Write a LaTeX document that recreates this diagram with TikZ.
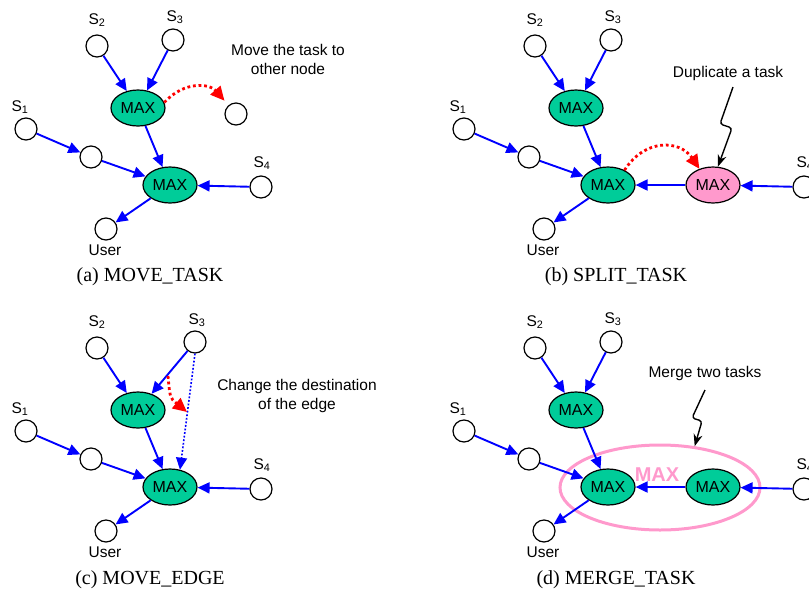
\documentclass[tikz,border=0pt]{standalone}
\usepackage{fontspec}
\setmainfont{Liberation Serif}
\newfontfamily\lsans{Liberation Sans}
\usetikzlibrary{arrows.meta,shapes.geometric,calc}
\definecolor{mgreen}{RGB}{0,204,153}
\definecolor{mpink}{RGB}{255,153,204}
\begin{document}
\begin{tikzpicture}[x=1pt,y=-1pt,
  lab/.style={font=\lsans\fontsize{15.5}{19}\selectfont, inner sep=0pt, align=center},
  captxt/.style={font=\fontsize{20}{24}\selectfont, inner sep=0pt},
  cnode/.style={circle, draw=black, line width=1.2pt, fill=white, minimum size=22pt, inner sep=0pt},
  mx/.style={ellipse, draw=black, line width=1.2pt, fill=mgreen, minimum width=54pt, minimum height=36pt, inner sep=0pt, font=\lsans\fontsize{16}{18}\selectfont},
  pmx/.style={mx, fill=mpink},
  bl/.style={draw=blue, line width=1.9pt, -{Triangle[length=12pt,width=11pt]}},
  bldot/.style={draw=blue, line width=1.6pt, dash pattern=on 1.8pt off 1.8pt, -{Triangle[length=12pt,width=11pt]}},
  rd/.style={draw=red, line width=2.8pt, dash pattern=on 2.8pt off 2.8pt, -{Triangle[length=14pt,width=13pt]}},
  zz/.style={draw=black, line width=1.4pt, rounded corners=3pt, -{Stealth[length=12pt,width=9pt]}},
]
\useasboundingbox (0,0) rectangle (809,598);
\clip (0,0) rectangle (809,598);

% ---------------- (a) MOVE_TASK ----------------
\node[cnode] (s2a) at (97,46) {};
\node[cnode] (s3a) at (173,40) {};
\node[mx] (uma) at (138,108) {MAX};
\node[cnode] (tga) at (236,114) {};
\node[cnode] (s1a) at (26,129) {};
\node[cnode] (mda) at (91,157) {};
\node[mx] (lma) at (170,185) {MAX};
\node[cnode] (s4a) at (261,187) {};
\node[cnode] (usa) at (106,229) {};
\node[lab] (s2la) at (97,20) {S\textsubscript{2}};
\node[lab] (s3la) at (175,17) {S\textsubscript{3}};
\node[lab] (s1la) at (20,107) {S\textsubscript{1}};
\node[lab] (s4la) at (262,163) {S\textsubscript{4}};
\node[lab] (usla) at (105,250) {User};
\node[lab] (txa) at (288,59) {Move the task to\\other node};
\node[captxt] (capa) at (150,277) {(a) MOVE\_TASK};
\draw[bl] (s2a) -- (uma);
\draw[bl] (s3a) -- (uma);
\draw[bl] (s1a) -- (mda);
\draw[bl] (mda) -- (lma);
\draw[bl] (uma) -- (lma);
\draw[bl] (s4a) -- (lma);
\draw[bl] (lma) -- (usa);
\draw[rd, shorten >=6pt] (uma.12) .. controls (185,80) and (210,84) .. (tga);

% ---------------- (b) SPLIT_TASK ----------------
\node[cnode] (s2b) at (535,46) {};
\node[cnode] (s3b) at (611,40) {};
\node[mx] (umb) at (576,108) {MAX};
\node[cnode] (s1b) at (464,129) {};
\node[cnode] (mdb) at (529,157) {};
\node[mx] (lmb) at (608,185) {MAX};
\node[pmx] (pmb) at (713,185) {MAX};
\node[cnode] (s4b) at (804,187) {};
\node[cnode] (usb) at (544,229) {};
\node[lab] (s2lb) at (535,20) {S\textsubscript{2}};
\node[lab] (s3lb) at (613,17) {S\textsubscript{3}};
\node[lab] (s1lb) at (458,107) {S\textsubscript{1}};
\node[lab] (s4lb) at (805,163) {S\textsubscript{4}};
\node[lab] (uslb) at (543,250) {User};
\node[lab] (txb) at (728,73) {Duplicate a task};
\node[captxt] (capb) at (616,277) {(b) SPLIT\_TASK};
\draw[bl] (s2b) -- (umb);
\draw[bl] (s3b) -- (umb);
\draw[bl] (s1b) -- (mdb);
\draw[bl] (mdb) -- (lmb);
\draw[bl] (umb) -- (lmb);
\draw[bl] (pmb) -- (lmb);
\draw[bl] (s4b) -- (pmb);
\draw[bl] (lmb) -- (usb);
\draw[rd] (lmb.42) .. controls (645,138) and (680,140) .. (pmb.130);
\coordinate (zb0) at (733,87);
\coordinate (zb1) at (720,124);
\coordinate (zb2) at (732,128);
\draw[zz] (zb0) -- (zb1) -- (zb2) -- (pmb.75);

% ---------------- (c) MOVE_EDGE ----------------
\node[cnode] (s2c) at (97,348) {};
\node[cnode] (s3c) at (195,342) {};
\node[mx] (umc) at (138,410) {MAX};
\node[cnode] (s1c) at (26,431) {};
\node[cnode] (mdc) at (91,459) {};
\node[mx] (lmc) at (170,487) {MAX};
\node[cnode] (s4c) at (261,489) {};
\node[cnode] (usc) at (106,531) {};
\node[lab] (s2lc) at (97,322) {S\textsubscript{2}};
\node[lab] (s3lc) at (197,320) {S\textsubscript{3}};
\node[lab] (s1lc) at (20,409) {S\textsubscript{1}};
\node[lab] (s4lc) at (262,465) {S\textsubscript{4}};
\node[lab] (uslc) at (105,552) {User};
\node[lab] (txc) at (297,396) {Change the destination\\of the edge};
\node[captxt] (capc) at (150,580) {(c) MOVE\_EDGE};
\draw[bl] (s2c) -- (umc);
\draw[bl] (s3c) -- (umc);
\draw[bl] (s1c) -- (mdc);
\draw[bl] (mdc) -- (lmc);
\draw[bl] (umc) -- (lmc);
\draw[bl] (s4c) -- (lmc);
\draw[bl] (lmc) -- (usc);
\draw[bldot] (s3c.south) -- (lmc.60);
\coordinate (rc1) at (168,376);
\coordinate (rc2) at (187,412);
\draw[rd] (rc1) .. controls (170,398) .. (rc2);

% ---------------- (d) MERGE_TASK ----------------
\node[ellipse, draw=mpink, line width=3pt, minimum width=200pt, minimum height=85pt, inner sep=0pt] (grp) at (660,487.5) {};
\node[font=\lsans\bfseries\fontsize{20}{22}\selectfont, text=mpink, inner sep=0pt] (gmx) at (657,475) {MAX};
\node[cnode] (s2d) at (535,348) {};
\node[cnode] (s3d) at (611,342) {};
\node[mx] (umd) at (576,410) {MAX};
\node[cnode] (s1d) at (464,431) {};
\node[cnode] (mdd) at (529,459) {};
\node[mx] (lmd) at (608,487) {MAX};
\node[mx] (rmd) at (713,487) {MAX};
\node[cnode] (s4d) at (804,489) {};
\node[cnode] (usd) at (544,531) {};
\node[lab] (s2ld) at (535,322) {S\textsubscript{2}};
\node[lab] (s3ld) at (613,319) {S\textsubscript{3}};
\node[lab] (s1ld) at (458,409) {S\textsubscript{1}};
\node[lab] (s4ld) at (805,465) {S\textsubscript{4}};
\node[lab] (usld) at (543,552) {User};
\node[lab] (txd) at (705,373) {Merge two tasks};
\node[captxt] (capd) at (616,580) {(d) MERGE\_TASK};
\draw[bl] (s2d) -- (umd);
\draw[bl] (s3d) -- (umd);
\draw[bl] (s1d) -- (mdd);
\draw[bl] (mdd) -- (lmd);
\draw[bl] (umd) -- (lmd);
\draw[bl] (rmd) -- (lmd);
\draw[bl] (s4d) -- (rmd);
\draw[bl] (lmd) -- (usd);
\coordinate (zd0) at (705,390);
\coordinate (zd1) at (692,418);
\coordinate (zd2) at (702,421);
\draw[zz] (zd0) -- (zd1) -- (zd2) -- (grp.50);
\end{tikzpicture}
\end{document}
